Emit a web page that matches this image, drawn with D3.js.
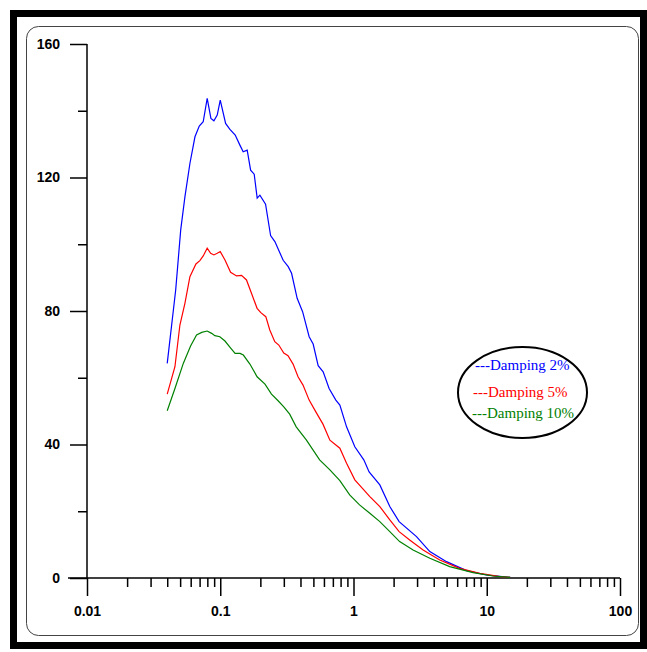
<!DOCTYPE html>
<html>
<head>
<meta charset="utf-8">
<script src="https://cdn.jsdelivr.net/npm/d3@7"></script>
<style>
  html, body { margin: 0; padding: 0; background: #fff; }
  svg { display: block; }
  .tick text { font-family: "Liberation Sans", Arial, sans-serif; font-weight: bold; font-size: 14px; }
  .legend text { font-family: "Liberation Serif", "Times New Roman", serif; font-size: 15px; }
</style>
</head>
<body>
<svg id="chart"></svg>
<script>
var width = 647,
    height = 652;

// Tick values
var xMajorTicks = [0.01, 0.1, 1, 10, 100];
var xTickLabels = ['0.01', '0.1', '1', '10', '100'];
var yMajorTicks = [0, 40, 80, 120, 160];
var yMinorTicks = [20, 60, 100, 140];

// Damping 2%
var periods2 = [0.04, 0.0463, 0.0505, 0.0543, 0.0592, 0.0646, 0.0696, 0.0745, 0.0798, 0.0851,
    0.0896, 0.0949, 0.1, 0.1097, 0.1182, 0.1295, 0.1404, 0.1486, 0.1593, 0.169,
    0.1798, 0.1893, 0.1984, 0.2188, 0.2387, 0.257, 0.2966, 0.3236, 0.343, 0.3777,
    0.415, 0.4647, 0.498, 0.543, 0.592, 0.656, 0.737, 0.79, 0.887, 1.023,
    1.195, 1.31, 1.576, 1.873, 2.2, 2.97, 3.74, 4.99, 7.05, 9.95, 15];
var values2 = [64.3, 86.3, 104.3, 114.2, 124.2, 132.2, 135.4, 136.7, 143.7, 137.7,
    137.0, 138.7, 143.2, 136.2, 134.4, 132.7, 129.7, 127.7, 128.2, 122.2,
    121.0, 113.8, 114.7, 112.0, 102.6, 100.8, 95.2, 93.3, 91.3, 83.8,
    79.8, 72.3, 70.1, 63.6, 61.8, 56.8, 53.3, 51.8, 45.3, 39.3,
    35.4, 31.8, 27.9, 21.4, 16.9, 12.4, 7.9, 4.9, 2.2, 0.9, 0.2];

// Damping 5%
var periods5 = [0.04, 0.0457, 0.0498, 0.0543, 0.0592, 0.0657, 0.0703, 0.0745, 0.0798, 0.0847,
    0.0896, 0.0949, 0.1, 0.1085, 0.1196, 0.1325, 0.1444, 0.1574, 0.1715, 0.189,
    0.2016, 0.2197, 0.2354, 0.2566, 0.275, 0.2998, 0.3226, 0.352, 0.3835, 0.418,
    0.4647, 0.523, 0.59, 0.665, 0.79, 0.887, 1.023, 1.195, 1.326, 1.576,
    1.873, 2.2, 2.64, 3.33, 4.44, 6.25, 8.87, 12.6, 15];
var values5 = [55.1, 63.3, 75.8, 82.3, 90.3, 94.1, 95.1, 96.5, 98.8, 97.3,
    96.8, 97.3, 97.8, 95.3, 91.6, 90.5, 90.7, 89.3, 85.3, 80.8,
    79.5, 78.3, 74.3, 70.8, 69.8, 67.4, 66.6, 64.1, 60.3, 57.8,
    53.3, 49.7, 46.1, 41.3, 38.9, 34.4, 29.4, 26.4, 24.4, 21.4,
    17.4, 13.9, 11.4, 8.4, 5.4, 2.9, 1.4, 0.4, 0.2];

// Damping 10%
var periods10 = [0.04, 0.0457, 0.0528, 0.0599, 0.0664, 0.0726, 0.0798, 0.0862, 0.0911, 0.0993,
    0.1085, 0.1185, 0.1292, 0.1409, 0.1491, 0.1669, 0.189, 0.2166, 0.2424, 0.2717,
    0.2998, 0.332, 0.3716, 0.4436, 0.557, 0.665, 0.79, 0.936, 1.11, 1.326,
    1.576, 1.873, 2.22, 2.8, 3.74, 5.27, 7.9, 11.1, 15];
var values10 = [50.1, 56.8, 64.3, 69.5, 72.8, 73.6, 74.0, 73.3, 72.6, 72.3,
    71.0, 69.1, 67.3, 67.3, 66.8, 64.1, 60.3, 58.1, 55.1, 53.1,
    51.3, 49.1, 45.3, 41.3, 35.4, 32.4, 29.2, 24.9, 21.9, 19.4,
    16.9, 13.9, 10.9, 8.4, 5.9, 3.4, 1.6, 0.6, 0.2];

var seriesNames = ['---Damping 2%', '---Damping 5%', '---Damping 10%'];
var seriesColors = ['#0000ff', '#ff0000', '#008000'];

var series = [
    { name: seriesNames[0], color: seriesColors[0], t: periods2, v: values2 },
    { name: seriesNames[1], color: seriesColors[1], t: periods5, v: values5 },
    { name: seriesNames[2], color: seriesColors[2], t: periods10, v: values10 }
];

var svg = d3.select('#chart')
    .attr('width', width)
    .attr('height', height);

// Outer thick frame
svg.append('rect')
    .attr('x', 13.5).attr('y', 13.5)
    .attr('width', 630).attr('height', 632)
    .attr('fill', 'none')
    .attr('stroke', '#000')
    .attr('stroke-width', 7);

// Inner rounded box
svg.append('rect')
    .attr('x', 26.5).attr('y', 26.5)
    .attr('width', 612).attr('height', 609)
    .attr('rx', 12).attr('ry', 12)
    .attr('fill', 'none')
    .attr('stroke', '#444')
    .attr('stroke-width', 1);

var x = d3.scaleLog()
    .domain([0.01, 100])
    .range([87, 620]);

var y = d3.scaleLinear()
    .domain([0, 160])
    .range([578, 44]);

// minor ticks for x (2..9 of each decade)
var xMinorTicks = [];
xMajorTicks.slice(0, -1).forEach(function (d) {
    for (var k = 2; k <= 9; k++) xMinorTicks.push(d * k);
});

var axisG = svg.append('g').attr('class', 'axes');

// x axis minor
axisG.append('g')
    .attr('transform', 'translate(0,' + y(0) + ')')
    .call(d3.axisBottom(x).tickValues(xMinorTicks).tickSize(9).tickFormat(''))
    .call(function (g) { g.select('.domain').remove(); });

// x axis major
axisG.append('g')
    .attr('transform', 'translate(0,' + y(0) + ')')
    .call(d3.axisBottom(x).tickValues(xMajorTicks).tickSize(18).tickPadding(10)
        .tickFormat(function (d, i) { return xTickLabels[i]; }))
    .call(function (g) { g.select('.domain').remove(); });

// y axis minor
axisG.append('g')
    .attr('transform', 'translate(' + x(0.01) + ',0)')
    .call(d3.axisLeft(y).tickValues(yMinorTicks).tickSize(9).tickFormat(''))
    .call(function (g) { g.select('.domain').remove(); });

// y axis major
axisG.append('g')
    .attr('transform', 'translate(' + x(0.01) + ',0)')
    .call(d3.axisLeft(y).tickValues(yMajorTicks).tickSize(17).tickPadding(10))
    .call(function (g) { g.select('.domain').remove(); });

axisG.selectAll('.tick line')
    .attr('stroke', '#000')
    .attr('stroke-width', 1.5);
axisG.selectAll('.tick text').attr('fill', '#000');

// axis lines
axisG.append('line')
    .attr('x1', 68).attr('x2', x(100))
    .attr('y1', y(0)).attr('y2', y(0))
    .attr('stroke', '#000').attr('stroke-width', 1.5);
axisG.append('line')
    .attr('x1', x(0.01)).attr('x2', x(0.01))
    .attr('y1', y(160)).attr('y2', y(0))
    .attr('stroke', '#000').attr('stroke-width', 1.5);

// curves
var line = d3.line()
    .x(function (d) { return x(d[0]); })
    .y(function (d) { return y(d[1]); });

svg.append('g').attr('class', 'curves')
    .selectAll('path')
    .data(series)
    .enter().append('path')
    .attr('d', function (s) { return line(d3.zip(s.t, s.v)); })
    .attr('fill', 'none')
    .attr('stroke', function (s) { return s.color; })
    .attr('stroke-width', 1.2);

// legend
var legend = svg.append('g').attr('class', 'legend');
legend.append('ellipse')
    .attr('cx', 522.5).attr('cy', 392.5)
    .attr('rx', 64.5).attr('ry', 45.5)
    .attr('fill', '#fff')
    .attr('stroke', '#000')
    .attr('stroke-width', 2);

var legendX = [475, 473, 472],
    legendY = [370, 397, 418];
legend.selectAll('text')
    .data(series)
    .enter().append('text')
    .attr('x', function (d, i) { return legendX[i]; })
    .attr('y', function (d, i) { return legendY[i]; })
    .attr('fill', function (d) { return d.color; })
    .text(function (d) { return d.name; });
</script>
</body>
</html>
